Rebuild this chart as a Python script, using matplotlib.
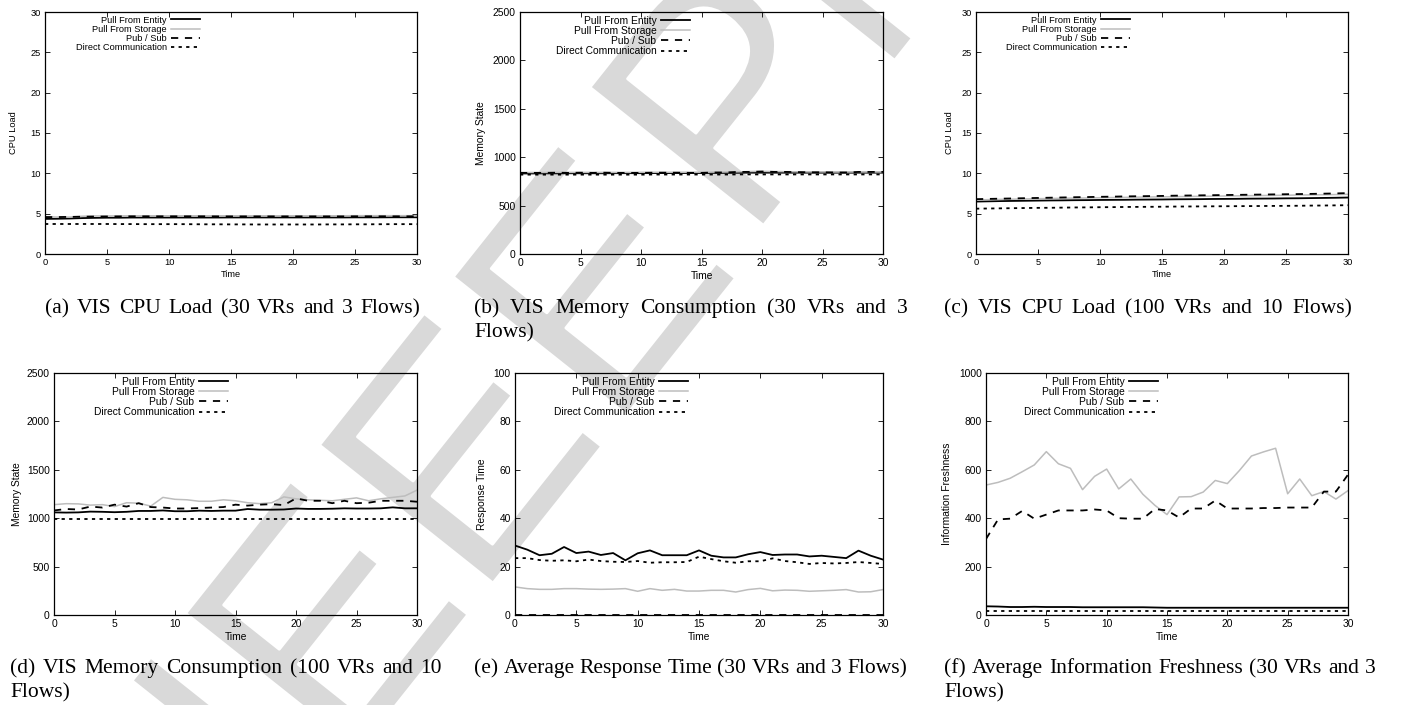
import matplotlib
matplotlib.use("Agg")
import matplotlib.pyplot as plt
from matplotlib import patheffects

plt.rcParams['font.family'] = ['Liberation Sans', 'DejaVu Sans']

# ---------------- data ----------------
time = list(range(31))
series_names = ["Pull From Entity", "Pull From Storage", "Pub / Sub", "Direct Communication"]

# (a) VIS CPU Load (30 VRs and 3 Flows)
a_entity = [4.35, 4.37, 4.40, 4.45, 4.48, 4.50, 4.50, 4.52, 4.52, 4.52, 4.52, 4.52, 4.52, 4.52, 4.52, 4.53,
            4.53, 4.53, 4.53, 4.53, 4.53, 4.53, 4.53, 4.53, 4.53, 4.54, 4.54, 4.54, 4.55, 4.55, 4.55]
a_storage = [4.62, 4.58, 4.58, 4.68, 4.72, 4.72, 4.72, 4.74, 4.74, 4.74, 4.74, 4.74, 4.74, 4.74, 4.74, 4.74,
             4.74, 4.74, 4.74, 4.74, 4.74, 4.74, 4.74, 4.74, 4.74, 4.75, 4.75, 4.75, 4.75, 4.75, 4.75]
a_pubsub = [4.58, 4.58, 4.60, 4.62, 4.64, 4.65, 4.66, 4.67, 4.67, 4.67, 4.67, 4.67, 4.67, 4.67, 4.66, 4.66,
            4.66, 4.66, 4.66, 4.66, 4.66, 4.66, 4.66, 4.66, 4.66, 4.67, 4.67, 4.67, 4.67, 4.67, 4.67]
a_direct = [3.72, 3.72, 3.72, 3.72, 3.72, 3.72, 3.71, 3.71, 3.70, 3.70, 3.70, 3.70, 3.69, 3.68, 3.68, 3.67,
            3.67, 3.66, 3.66, 3.66, 3.66, 3.66, 3.66, 3.67, 3.67, 3.68, 3.68, 3.69, 3.70, 3.70, 3.70]

# (b) VIS Memory Consumption (30 VRs and 3 Flows)
b_entity = [832, 832, 833, 833, 834, 834, 834, 834, 835, 835, 835, 836, 836, 836, 837, 837,
            838, 838, 839, 840, 840, 840, 840, 840, 840, 840, 840, 840, 840, 840, 840]
b_storage = [842, 842, 842, 843, 843, 843, 843, 843, 843, 843, 844, 844, 844, 844, 845, 845,
             846, 847, 849, 852, 854, 852, 850, 849, 848, 848, 847, 847, 847, 847, 847]
b_pubsub = [838, 838, 838, 840, 838, 840, 838, 840, 838, 838, 838, 840, 840, 840, 838, 838,
            842, 842, 848, 848, 852, 848, 848, 846, 844, 844, 842, 842, 848, 848, 848]
b_direct = [820, 820, 820, 820, 820, 820, 820, 820, 820, 820, 820, 821, 821, 821, 821, 821,
            821, 821, 822, 822, 822, 822, 822, 822, 822, 822, 822, 822, 822, 822, 822]

# (c) VIS CPU Load (100 VRs and 10 Flows)
c_entity = [6.50, 6.53, 6.56, 6.58, 6.60, 6.62, 6.64, 6.65, 6.67, 6.68, 6.70, 6.71, 6.72, 6.74, 6.75, 6.76,
            6.78, 6.79, 6.80, 6.82, 6.83, 6.84, 6.86, 6.87, 6.88, 6.90, 6.91, 6.93, 6.95, 6.97, 7.00]
c_storage = [6.70, 6.74, 6.77, 6.80, 6.83, 6.86, 6.88, 6.91, 6.93, 6.95, 6.98, 7.00, 7.02, 7.05, 7.07, 7.09,
             7.11, 7.13, 7.15, 7.17, 7.19, 7.21, 7.23, 7.25, 7.27, 7.29, 7.31, 7.33, 7.35, 7.37, 7.40]
c_pubsub = [6.80, 6.83, 6.86, 6.89, 6.92, 6.95, 6.98, 7.01, 7.04, 7.06, 7.09, 7.11, 7.14, 7.16, 7.18, 7.20,
            7.23, 7.25, 7.27, 7.29, 7.31, 7.33, 7.35, 7.37, 7.39, 7.41, 7.43, 7.45, 7.48, 7.51, 7.55]
c_direct = [5.62, 5.64, 5.66, 5.68, 5.70, 5.72, 5.73, 5.75, 5.77, 5.78, 5.80, 5.81, 5.83, 5.84, 5.85, 5.86,
            5.88, 5.89, 5.90, 5.91, 5.92, 5.93, 5.94, 5.95, 5.96, 5.97, 5.98, 6.00, 6.01, 6.03, 6.05]

# (d) VIS Memory Consumption (100 VRs and 10 Flows)
d_entity = [1060, 1058, 1060, 1068, 1066, 1062, 1066, 1075, 1075, 1080, 1072, 1072, 1078, 1075, 1078, 1078,
            1095, 1088, 1088, 1090, 1100, 1096, 1096, 1098, 1102, 1100, 1100, 1102, 1112, 1102, 1102]
d_storage = [1140, 1150, 1148, 1135, 1140, 1120, 1160, 1155, 1125, 1215, 1195, 1190, 1175, 1175, 1190, 1180,
             1160, 1150, 1160, 1220, 1200, 1190, 1185, 1180, 1195, 1210, 1180, 1200, 1215, 1230, 1290]
d_pubsub = [1080, 1095, 1090, 1120, 1110, 1140, 1120, 1155, 1115, 1110, 1100, 1100, 1105, 1110, 1115, 1140,
            1130, 1140, 1145, 1135, 1205, 1180, 1180, 1155, 1180, 1155, 1160, 1180, 1180, 1180, 1170]
d_direct = [988] * 31

# (e) Average Response Time (30 VRs and 3 Flows)
e_entity = [28.7, 27.0, 24.7, 25.3, 28.1, 25.6, 26.2, 24.8, 25.6, 22.6, 25.5, 26.7, 24.7, 24.7, 24.7, 26.7,
            24.5, 23.8, 23.8, 25.1, 26.0, 24.8, 25.0, 25.0, 24.2, 24.5, 24.0, 23.5, 26.6, 24.5, 22.9]
e_storage = [11.6, 10.9, 10.6, 10.6, 10.9, 10.9, 10.7, 10.6, 10.7, 10.9, 9.8, 10.9, 10.2, 10.6, 9.9, 9.9,
             10.2, 10.2, 9.5, 10.5, 11.0, 10.0, 10.3, 10.2, 9.8, 10.0, 10.2, 10.5, 9.5, 9.6, 10.5]
e_pubsub = [0.0] * 31
e_direct = [23.5, 23.5, 22.7, 22.4, 22.6, 22.2, 22.9, 22.3, 22.0, 21.9, 22.3, 21.6, 21.8, 21.8, 21.9, 24.1,
            23.1, 22.2, 21.6, 22.2, 22.2, 23.4, 22.3, 21.8, 21.1, 21.5, 21.3, 21.5, 21.9, 21.5, 21.1]

# (f) Average Information Freshness (30 VRs and 3 Flows)
f_entity = [36, 35, 33, 33, 34, 33, 33, 33, 32, 32, 32, 32, 32, 32, 31, 30,
            30, 30, 30, 30, 30, 30, 30, 30, 30, 30, 30, 30, 30, 30, 30]
f_storage = [537, 548, 565, 592, 620, 675, 625, 606, 518, 573, 603, 521, 562, 499, 453, 415,
             488, 489, 508, 556, 543, 597, 657, 674, 689, 501, 562, 493, 510, 479, 514]
f_pubsub = [314, 395, 398, 430, 398, 415, 432, 432, 432, 436, 432, 400, 398, 398, 438, 432,
            403, 440, 440, 473, 440, 440, 440, 442, 442, 444, 444, 444, 510, 510, 580]
f_direct = [15] * 31

panels = [
    dict(data=[a_entity, a_storage, a_pubsub, a_direct], ylim=(0, 30), yticks=[0, 5, 10, 15, 20, 25, 30],
         ylabel="CPU Load", box=(45, 417, 12, 254), leg=0.417, fs=6.7, ylpad=9),
    dict(data=[b_entity, b_storage, b_pubsub, b_direct], ylim=(0, 2500), yticks=[0, 500, 1000, 1500, 2000, 2500],
         ylabel="Memory State", box=(520, 883, 12, 254), leg=0.468, fs=7.4, ylpad=5),
    dict(data=[c_entity, c_storage, c_pubsub, c_direct], ylim=(0, 30), yticks=[0, 5, 10, 15, 20, 25, 30],
         ylabel="CPU Load", box=(976, 1348, 12, 254), leg=0.414, fs=6.7, ylpad=5),
    dict(data=[d_entity, d_storage, d_pubsub, d_direct], ylim=(0, 2500), yticks=[0, 500, 1000, 1500, 2000, 2500],
         ylabel="Memory State", box=(54, 417, 373, 615), leg=0.479, fs=7.4, ylpad=3.5),
    dict(data=[e_entity, e_storage, e_pubsub, e_direct], ylim=(0, 100), yticks=[0, 20, 40, 60, 80, 100],
         ylabel="Response Time", box=(515, 883, 373, 615), leg=0.470, fs=7.4, ylpad=5),
    dict(data=[f_entity, f_storage, f_pubsub, f_direct], ylim=(0, 1000), yticks=[0, 200, 400, 600, 800, 1000],
         ylabel="Information Freshness", box=(986, 1348, 373, 615), leg=0.475, fs=7.4, ylpad=5),
]
xticks = [0, 5, 10, 15, 20, 25, 30]

# caption lines: (text lines, x-left, x-right of justified line, baseline y of first line)
captions = [
    (["(a) VIS CPU Load (30 VRs and 3 Flows)"], 45, 420, 313),
    (["(b) VIS Memory Consumption (30 VRs and 3", "Flows)"], 474, 908, 313),
    (["(c) VIS CPU Load (100 VRs and 10 Flows)"], 944, 1352, 313),
    (["(d) VIS Memory Consumption (100 VRs and 10", "Flows)"], 10, 442, 673),
    (["(e) Average Response Time (30 VRs and 3 Flows)"], 474, 907, 673),
    (["(f) Average Information Freshness (30 VRs and 3", "Flows)"], 944, 1376, 673),
]

W, H = 1403, 705
fig = plt.figure(figsize=(W / 100, H / 100), dpi=100)

styles = [
    dict(color='black', lw=1.3, ls='-'),
    dict(color='#bdbdbd', lw=1.1, ls='-'),
    dict(color='black', lw=1.3, ls=(0, (4.0, 3.7))),
    dict(color='black', lw=1.3, ls=(0, (1.8, 2.4))),
]

# watermark (drawn beneath transparent axes)
wm_color = '#d9d9d9'
wm_fx = [patheffects.Stroke(linewidth=2.0, foreground='white')]
wm_size = 232
wm_rot = 51.5
fig.text(287 / W, 1 - 842 / H, "IEEE", rotation=wm_rot, rotation_mode='anchor', ha='left', va='baseline',
         fontsize=wm_size, color=wm_color, family='Liberation Sans', zorder=-10, path_effects=wm_fx)
fig.text(747 / W, 1 - 246 / H, "Proof", rotation=wm_rot, rotation_mode='anchor', ha='left', va='baseline',
         fontsize=wm_size, color=wm_color, family='Liberation Sans', zorder=-10, path_effects=wm_fx)

for p in panels:
    l, r, t, b = p['box']
    fs = p['fs']
    ax = fig.add_axes([l / W, 1 - b / H, (r - l) / W, (b - t) / H])
    ax.set_facecolor('none')
    handles = []
    for vals, st in zip(p['data'], styles):
        ln, = ax.plot(time, vals, color=st['color'], lw=st['lw'], ls=st['ls'], dash_capstyle='butt')
        handles.append(ln)
    ax.set_xlim(0, 30)
    ax.set_ylim(*p['ylim'])
    ax.set_xticks(xticks)
    ax.set_yticks(p['yticks'])
    ax.tick_params(direction='in', top=True, right=True, length=3.5, width=0.6, labelsize=fs, pad=3)
    for sp in ax.spines.values():
        sp.set_linewidth(0.9)
    ax.set_xlabel("Time", fontsize=fs, labelpad=2)
    ax.set_ylabel(p['ylabel'], fontsize=fs, labelpad=p['ylpad'])
    hl = 29 / (fs * 100 / 72)
    ax.legend(handles, series_names, loc='upper right', bbox_to_anchor=(p['leg'], 0.985), frameon=False,
              markerfirst=False, fontsize=fs, handlelength=hl, handletextpad=0.45, labelspacing=0.02,
              borderpad=0, borderaxespad=0)

# captions (justified like the LaTeX sub-captions)
cap_fs = 15.5
line_gap = 24
cap_family = 'Liberation Serif'
renderer = fig.canvas.get_renderer()
for lines, x0, x1, y0 in captions:
    for i, line in enumerate(lines):
        y = 1 - (y0 + i * line_gap) / H
        if len(lines) > 1 and i == len(lines) - 1:
            fig.text(x0 / W, y, line, ha='left', va='baseline', fontsize=cap_fs, family=cap_family)
            continue
        words = line.split(' ')
        tmp = [fig.text(0, 0, w_, fontsize=cap_fs, family=cap_family) for w_ in words]
        widths = [tt.get_window_extent(renderer).width for tt in tmp]
        for tt in tmp:
            tt.remove()
        gap = max(((x1 - x0) - sum(widths)) / (len(words) - 1), 3.0)
        x = x0
        for w_, wd in zip(words, widths):
            fig.text(x / W, y, w_, ha='left', va='baseline', fontsize=cap_fs, family=cap_family)
            x += wd + gap

fig.savefig("out.png", dpi=100)
